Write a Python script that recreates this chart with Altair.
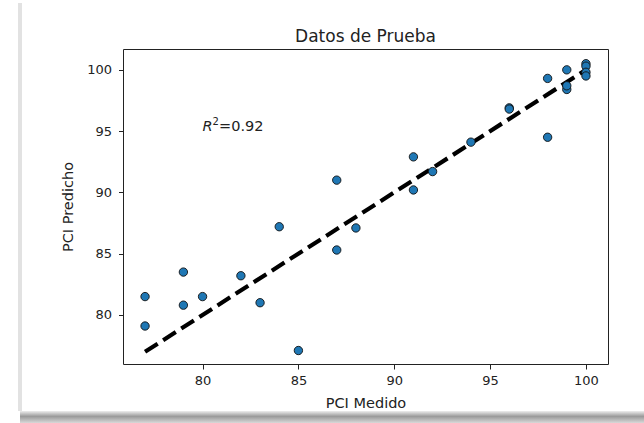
import altair as alt
import pandas as pd

# Data
pci_medido = [77, 77, 79, 79, 80, 82, 83, 84, 85, 87, 87, 88, 91, 91, 92, 94,
              96, 96, 98, 98, 99, 99, 99, 100, 100, 100, 100]
pci_predicho = [81.5, 79.1, 83.5, 80.8, 81.5, 83.2, 81.0, 87.2, 77.1, 91.0, 85.3,
                87.1, 92.9, 90.2, 91.7, 94.1, 96.9, 96.8, 99.3, 94.5, 100.0, 98.4,
                98.7, 100.5, 100.3, 99.8, 99.5]
linea_x = [77, 100]
linea_y = [77.0, 100.0]
tick_vals = [80, 85, 90, 95, 100]
r2_label_x = [80]
r2_label_y = [95]
r2_text = "=0.92"
titulo = "Datos de Prueba"

FONT = "DejaVu Sans"

pts = pd.DataFrame({"medido": pci_medido, "predicho": pci_predicho})
line_df = pd.DataFrame({"medido": linea_x, "predicho": linea_y})
lab_df = pd.DataFrame({"medido": r2_label_x, "predicho": r2_label_y})
one = pd.DataFrame({"k": [0]})

xs = alt.Scale(domain=[75.85, 101.15], nice=False, zero=False)
ys = alt.Scale(domain=[76.0, 101.7], nice=False, zero=False)

x_axis = alt.Axis(values=tick_vals, grid=False, title="PCI Medido", tickSize=5,
                  labelPadding=5, titleBaseline="alphabetic", titleY=43,
                  titleFontWeight="normal")
y_axis = alt.Axis(values=tick_vals, grid=False, title="PCI Predicho", tickSize=4.5,
                  labelPadding=7, titleBaseline="middle", titleX=-55,
                  titleFontWeight="normal")

points = alt.Chart(pts).mark_point(
    filled=True, shape="circle", size=70, fill="#1f77b4", stroke="#111",
    strokeWidth=0.9, opacity=1
).encode(
    x=alt.X("medido:Q", scale=xs, axis=x_axis),
    y=alt.Y("predicho:Q", scale=ys, axis=y_axis),
)

line = alt.Chart(line_df).mark_line(
    color="black", strokeWidth=4.2, strokeDash=[15, 6.5]
).encode(
    x=alt.X("medido:Q", scale=xs),
    y=alt.Y("predicho:Q", scale=ys),
)

r_italic = alt.Chart(lab_df).mark_text(
    text="R", fontStyle="italic", font=FONT, fontSize=14.5, align="left",
    baseline="alphabetic", color="#222"
).encode(x=alt.X("medido:Q", scale=xs), y=alt.Y("predicho:Q", scale=ys))

r_sup = alt.Chart(lab_df).mark_text(
    text="2", font=FONT, fontSize=10, align="left", baseline="alphabetic",
    dx=10, dy=-6, color="#222"
).encode(x=alt.X("medido:Q", scale=xs), y=alt.Y("predicho:Q", scale=ys))

r_rest = alt.Chart(lab_df).mark_text(
    text=r2_text, font=FONT, fontSize=14.5, align="left", baseline="alphabetic",
    dx=16.5, color="#222"
).encode(x=alt.X("medido:Q", scale=xs), y=alt.Y("predicho:Q", scale=ys))

title_mark = alt.Chart(one).mark_text(
    text=titulo, font=FONT, fontSize=17, align="center", baseline="alphabetic",
    color="#222"
).encode(x=alt.value(242.5), y=alt.value(-7.5))

# decorative screenshot frame
left_strip = alt.Chart(one).mark_rect(color="#e2e2e2").encode(
    x=alt.value(-105), x2=alt.value(-101), y=alt.value(-46), y2=alt.value(362)
)
bottom_shadow = alt.Chart(one).mark_rect(
    fill=alt.Gradient(
        gradient="linear", x1=0, y1=0, x2=0, y2=1,
        stops=[alt.GradientStop(offset=0, color="#eeeeee"),
               alt.GradientStop(offset=0.45, color="#9a9a9a"),
               alt.GradientStop(offset=1, color="#d8d8d8")]
    )
).encode(x=alt.value(-103), x2=alt.value(521), y=alt.value(362), y2=alt.value(374))

chart = alt.layer(
    left_strip, bottom_shadow, line, points, r_italic, r_sup, r_rest, title_mark
).properties(
    width=485, height=315,
    autosize=alt.AutoSizeParams(type="none"),
    padding={"left": 123, "top": 49, "right": 36, "bottom": 59},
    background="white",
).configure_view(
    stroke="#222", strokeWidth=1
).configure_axis(
    labelFont=FONT, titleFont=FONT, labelFontSize=13, titleFontSize=14.5,
    labelColor="#222", titleColor="#222", domain=False, tickColor="#222",
)

chart.save("out.html", embed_options={"renderer": "svg", "actions": False})
